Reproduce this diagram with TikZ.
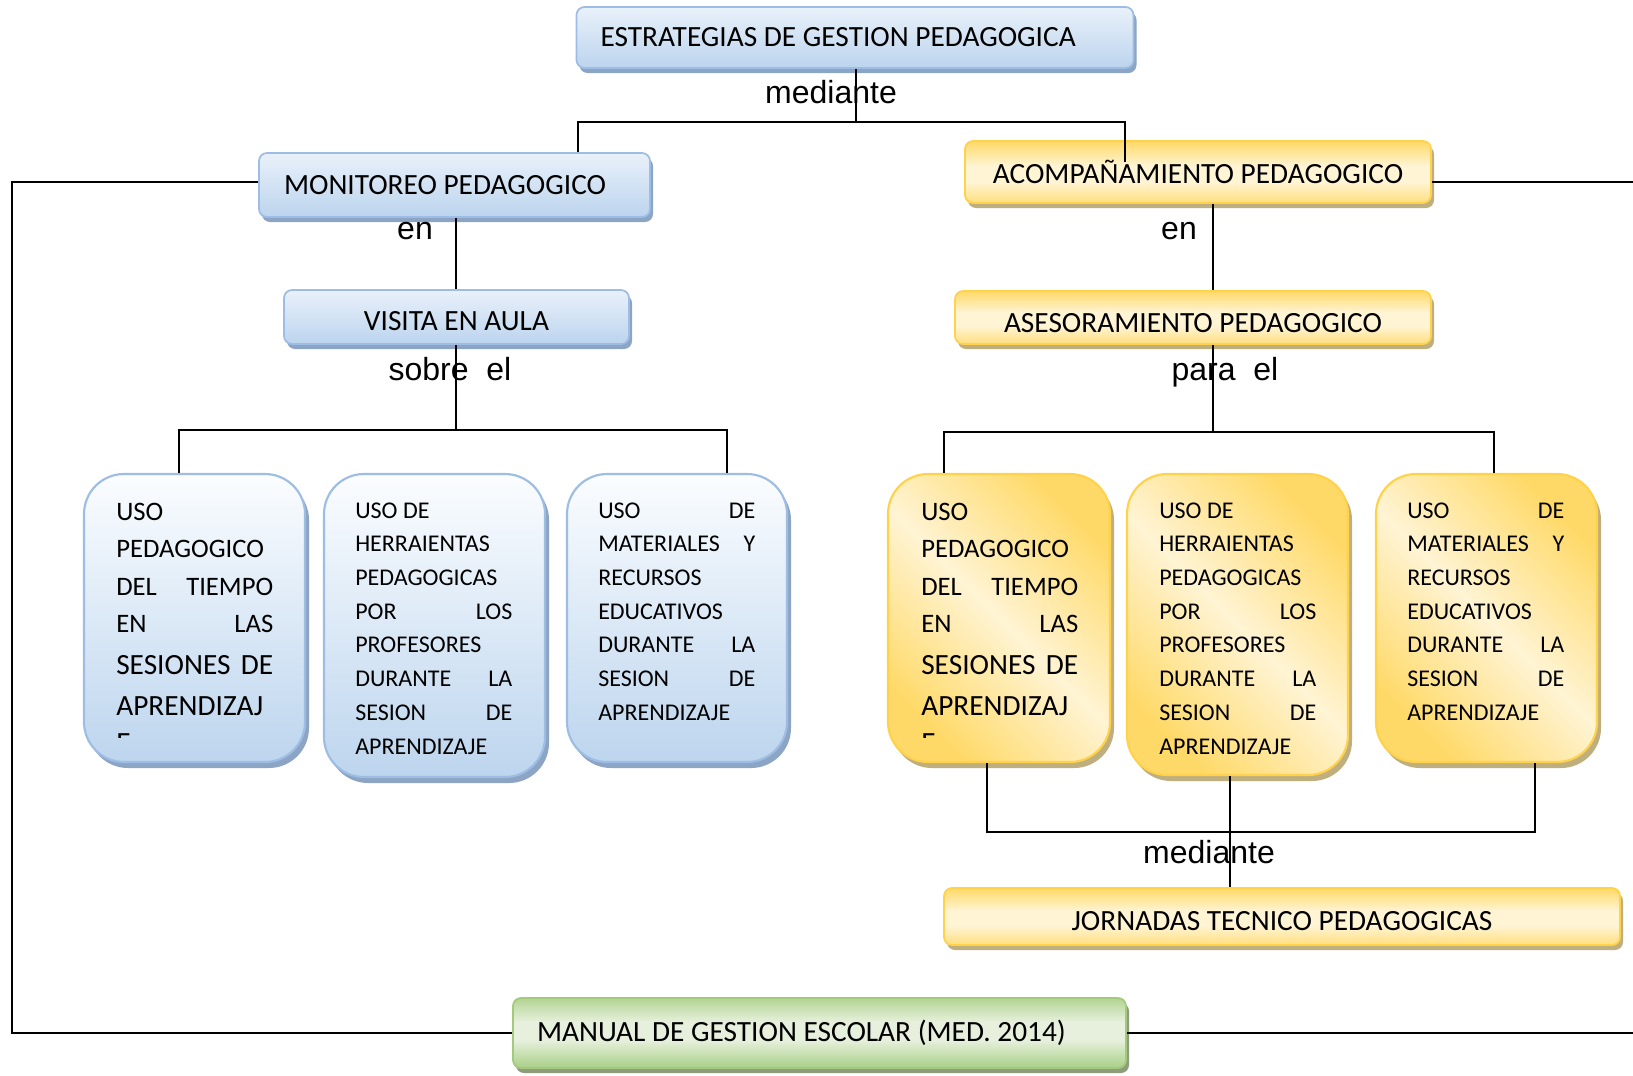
\documentclass[tikz,border=0pt]{standalone}
\usepackage{fontspec}
\setmainfont{Carlito}
\newfontfamily\labfont{Liberation Sans}
\usetikzlibrary{shadows}
\definecolor{bborder}{HTML}{9DBDE4}
\definecolor{htop}{HTML}{E9F1FA}
\definecolor{hbot}{HTML}{BCD4EE}
\definecolor{btop}{HTML}{FBFDFF}
\definecolor{bbot}{HTML}{BDD5EE}
\definecolor{bshadow}{HTML}{8DA5C4}
\definecolor{ygold}{HTML}{FFD967}
\definecolor{ycream}{HTML}{FFF4D4}
\definecolor{yborder}{HTML}{FFD24A}
\definecolor{yshadow}{HTML}{BFAE7E}
\definecolor{gdark}{HTML}{A9CF86}
\definecolor{glight}{HTML}{E6F0DC}
\definecolor{gborder}{HTML}{A3C97C}
\definecolor{gshadow}{HTML}{8D9C7C}
\pgfdeclareverticalshading{yvert}{100bp}{color(0bp)=(ygold!80!ycream); color(25bp)=(ygold!80!ycream); color(42bp)=(ycream); color(55bp)=(ycream); color(75bp)=(ygold); color(100bp)=(ygold)}
\pgfdeclareverticalshading{gvert}{100bp}{color(0bp)=(gdark); color(25bp)=(gdark); color(45bp)=(glight); color(58bp)=(glight); color(75bp)=(gdark!85!glight); color(100bp)=(gdark!85!glight)}
\begin{document}
\begin{tikzpicture}[x=0.75pt,y=-0.75pt,
  conn/.style={line width=1.1pt,black},
  bsize/.style 2 args={minimum width={#1*0.75pt},minimum height={#2*0.75pt}},
  ltext/.style 2 args={text width={#1*0.75pt},inner xsep={#2*0.75pt},inner ysep=0pt,align=flush left},
  hfont/.style={font=\fontsize{22}{26}\selectfont},
  bluehdr/.style={draw=bborder,line width=1.3pt,rounded corners=6pt,top color=htop,bottom color=hbot,
     drop shadow={shadow xshift=2.25pt,shadow yshift=-3.75pt,fill=bshadow,opacity=1},inner sep=0pt,hfont},
  yelhdr/.style={draw=yborder,line width=1.3pt,rounded corners=6pt,shading=yvert,
     drop shadow={shadow xshift=2.25pt,shadow yshift=-3.75pt,fill=yshadow,opacity=1},inner sep=0pt,hfont},
  greenhdr/.style={draw=gborder,line width=1.3pt,rounded corners=6pt,shading=gvert,
     drop shadow={shadow xshift=2.25pt,shadow yshift=-3.75pt,fill=gshadow,opacity=1},inner sep=0pt,hfont},
  bluetall/.style={draw=bborder,line width=1.6pt,rounded corners=30pt,top color=btop,bottom color=bbot,
     drop shadow={shadow xshift=3pt,shadow yshift=-4.5pt,fill=bshadow,opacity=1},inner sep=0pt},
  yeltall/.style={draw=yborder,line width=1.6pt,rounded corners=30pt,left color=ygold,right color=ygold,middle color=ycream,shading angle=135,
     drop shadow={shadow xshift=3pt,shadow yshift=-4.5pt,fill=yshadow,opacity=1},inner sep=0pt},
  btxtA/.style={anchor=base west,inner sep=0pt,text width=117.75pt,align=flush left,font=\fontsize{20}{28.1}\selectfont},
  btxtB/.style={anchor=base west,inner sep=0pt,text width=117.75pt,align=flush left,font=\fontsize{18}{25.3}\selectfont},
  lab/.style={inner sep=0pt,font=\labfont\fontsize{24}{28}\selectfont}
]
\useasboundingbox (0,0) rectangle (1633,1075);
\fill[white] (0,0) rectangle (1633,1075);

% header boxes
\node[bluehdr,bsize={557}{61},ltext={509}{24}] (top) at (855,37.5) {ESTRATEGIAS DE GESTION PEDAGOGICA};
\node[bluehdr,bsize={391}{64},ltext={341}{25}] (monit) at (454.5,185) {MONITOREO PEDAGOGICO};
\node[bluehdr,bsize={345}{54},text height=20.25pt,text depth=0pt] (visita) at (456.5,317) {VISITA EN AULA};
\node[yelhdr,bsize={466}{62}] (acomp) at (1198,172) {ACOMPAÑAMIENTO PEDAGOGICO};
\node[yelhdr,bsize={476}{53},text height=21.75pt,text depth=0pt] (ases) at (1193,317.5) {ASESORAMIENTO PEDAGOGICO};
\node[yelhdr,bsize={676}{57},text height=20.25pt,text depth=0pt] (jorn) at (1282,916.5) {JORNADAS TECNICO PEDAGOGICAS};
\node[greenhdr,bsize={613}{70},ltext={565}{24}] (manual) at (819.5,1033) {MANUAL DE GESTION ESCOLAR (MED. 2014)};

% tall boxes
\node[bluetall,bsize={221}{288}] (b1) at (194.5,618) {};
\node[bluetall,bsize={221}{303}] (b2) at (434.5,625.5) {};
\node[bluetall,bsize={220}{288}] (b3) at (677,618) {};
\node[yeltall,bsize={222}{288}] (y1) at (999,618) {};
\node[yeltall,bsize={221}{301}] (y2) at (1237.5,624.5) {};
\node[yeltall,bsize={221}{288}] (y3) at (1486.5,618) {};

% texts of tall boxes
\node[btxtA] (t1) at (116,520.5) {USO\\ PEDAGOGICO\\ DEL\hfill TIEMPO\\ EN\hfill LAS\\[3pt] {\fontsize{22}{28.1}\selectfont SESIONES\hfill DE}\\[2.5pt] {\fontsize{22}{28.1}\selectfont APRENDIZAJ}};
\begin{scope}
\clip (100,720) rectangle (200,737.5);
\node[anchor=base west,inner sep=0pt,font=\fontsize{22}{28.1}\selectfont] (t1e) at (116,752.5) {E};
\end{scope}
\node[btxtB] (t2) at (355,518) {USO DE\\ HERRAIENTAS\\ PEDAGOGICAS\\ POR\hfill LOS\\ PROFESORES\\ DURANTE\hfill LA\\ SESION\hfill DE\\ APRENDIZAJE};
\node[btxtB] (t3) at (598,518) {USO\hfill DE\\ MATERIALES\hfill Y\\ RECURSOS\\ EDUCATIVOS\\ DURANTE\hfill LA\\ SESION\hfill DE\\ APRENDIZAJE};
\node[btxtA] (u1) at (921,520.5) {USO\\ PEDAGOGICO\\ DEL\hfill TIEMPO\\ EN\hfill LAS\\[3pt] {\fontsize{22}{28.1}\selectfont SESIONES\hfill DE}\\[2.5pt] {\fontsize{22}{28.1}\selectfont APRENDIZAJ}};
\begin{scope}
\clip (905,720) rectangle (1005,737.5);
\node[anchor=base west,inner sep=0pt,font=\fontsize{22}{28.1}\selectfont] (u1e) at (921,752.5) {E};
\end{scope}
\node[btxtB] (u2) at (1159,518) {USO DE\\ HERRAIENTAS\\ PEDAGOGICAS\\ POR\hfill LOS\\ PROFESORES\\ DURANTE\hfill LA\\ SESION\hfill DE\\ APRENDIZAJE};
\node[btxtB] (u3) at (1407,518) {USO\hfill DE\\ MATERIALES\hfill Y\\ RECURSOS\\ EDUCATIVOS\\ DURANTE\hfill LA\\ SESION\hfill DE\\ APRENDIZAJE};

% labels
\node[lab] (l1) at (831,92) {mediante};
\node[lab] (l2) at (415,231) {en};
\node[lab] (l3) at (450,369) {sobre\ \ el};
\node[lab] (l4) at (1179,231) {en};
\node[lab] (l5) at (1225,372) {para\ \ el};
\node[lab] (l6) at (1209,852) {mediante};

% junction coordinates
\coordinate (j1) at (856,122);
\coordinate (jl) at (578,122);
\coordinate (jr) at (1125,122);
\coordinate (acin) at (1125,162);
\coordinate (vx) at (456,430);
\coordinate (bl) at (179,430);
\coordinate (br) at (727,430);
\coordinate (ya) at (1213,432);
\coordinate (yl) at (944,432);
\coordinate (yr) at (1494,432);
\coordinate (ml) at (987,832);
\coordinate (mr) at (1535,832);
\coordinate (mm) at (1230,832);
\coordinate (lc) at (12,182);
\coordinate (rc) at (1633,182);

% connectors
\draw[conn] (top.south -| j1) -- (j1);
\draw[conn] (jl |- monit.north) -- (jl) -- (jr) -- (acin);
\draw[conn] (monit.south -| vx) -- (visita.north -| vx);
\draw[conn] (visita.south -| vx) -- (vx);
\draw[conn] (bl |- b1.north) -- (bl) -- (br) -- (br |- b3.north);
\draw[conn] (acomp.south -| ya) -- (ases.north -| ya);
\draw[conn] (ases.south -| ya) -- (ya);
\draw[conn] (yl |- y1.north) -- (yl) -- (yr) -- (yr |- y3.north);
\draw[conn] (ml |- y1.south) -- (ml) -- (mr) -- (mr |- y3.south);
\draw[conn] (mm |- y2.south) -- (mm |- jorn.north);
\draw[conn] (lc -| monit.west) -- (lc) -- (lc |- manual.west) -- (manual.west);
\draw[conn] (acomp.east |- rc) -- (rc);
\draw[conn] (manual.east) -- (manual.east -| rc);
\end{tikzpicture}
\end{document}
